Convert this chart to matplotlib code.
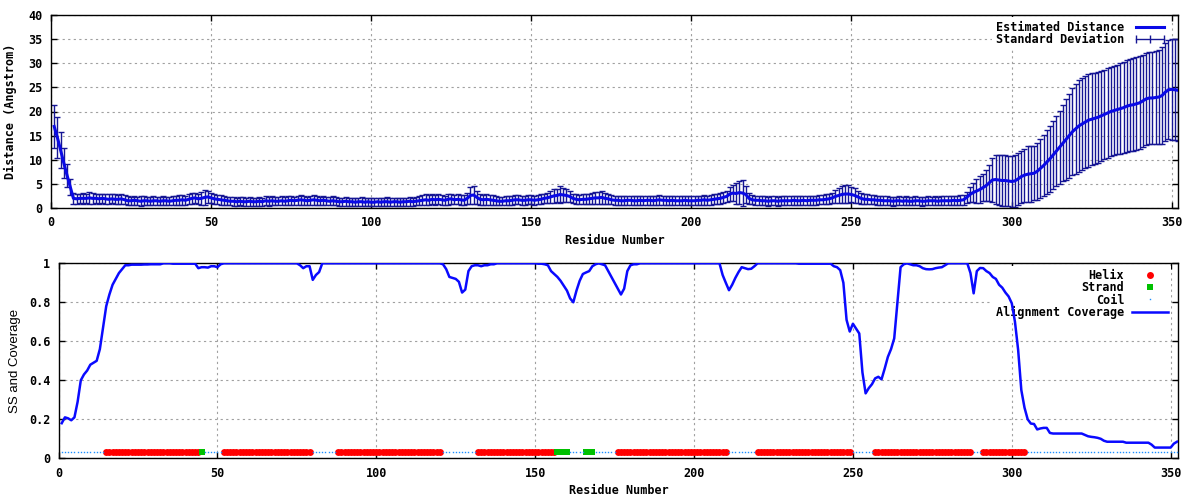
import numpy as np
import matplotlib
matplotlib.use("Agg")
import matplotlib.pyplot as plt
from matplotlib.lines import Line2D

# estimated distance per residue (1..352)
distance = [
    16.9, 14.6, 12.0, 9.3, 6.8, 4.4, 2.0, 1.9, 2.0, 2.0,
    2.0, 2.1, 2.0, 2.0, 1.9, 2.0, 1.9, 1.8, 1.9, 1.8,
    1.8, 1.9, 1.7, 1.5, 1.5, 1.6, 1.5, 1.4, 1.5, 1.5,
    1.4, 1.5, 1.5, 1.4, 1.5, 1.5, 1.4, 1.5, 1.6, 1.6,
    1.7, 1.6, 1.8, 2.0, 2.1, 1.9, 2.0, 2.2, 2.3, 2.1,
    1.9, 1.8, 1.7, 1.6, 1.5, 1.4, 1.4, 1.3, 1.4, 1.3,
    1.3, 1.4, 1.3, 1.3, 1.4, 1.3, 1.5, 1.4, 1.5, 1.4,
    1.4, 1.5, 1.4, 1.5, 1.6, 1.5, 1.6, 1.7, 1.6, 1.5,
    1.6, 1.7, 1.6, 1.5, 1.6, 1.5, 1.4, 1.5, 1.4, 1.3,
    1.3, 1.4, 1.3, 1.3, 1.2, 1.3, 1.3, 1.2, 1.3, 1.2,
    1.2, 1.3, 1.2, 1.3, 1.3, 1.2, 1.3, 1.3, 1.2, 1.3,
    1.3, 1.4, 1.3, 1.4, 1.5, 1.6, 1.7, 1.6, 1.8, 1.7,
    1.8, 1.7, 1.6, 1.8, 1.9, 1.7, 1.8, 1.7, 1.6, 2.0,
    2.6, 2.7, 2.2, 1.8, 1.7, 1.8, 1.7, 1.6, 1.5, 1.4,
    1.4, 1.5, 1.5, 1.6, 1.7, 1.7, 1.6, 1.6, 1.7, 1.7,
    1.6, 1.7, 1.8, 2.0, 2.1, 2.3, 2.5, 2.6, 2.8, 2.7,
    2.6, 2.4, 2.0, 1.8, 1.7, 1.8, 1.8, 1.9, 2.0, 2.1,
    2.1, 2.2, 2.0, 1.9, 1.7, 1.6, 1.6, 1.5, 1.5, 1.6,
    1.6, 1.5, 1.5, 1.6, 1.5, 1.6, 1.6, 1.5, 1.6, 1.7,
    1.6, 1.6, 1.5, 1.6, 1.5, 1.5, 1.5, 1.6, 1.5, 1.5,
    1.5, 1.6, 1.6, 1.7, 1.6, 1.7, 1.8, 1.9, 2.0, 2.2,
    2.4, 2.9, 3.1, 3.0, 3.2, 3.1, 2.8, 2.0, 1.7, 1.6,
    1.6, 1.5, 1.5, 1.4, 1.5, 1.5, 1.4, 1.5, 1.5, 1.5,
    1.5, 1.6, 1.5, 1.5, 1.6, 1.5, 1.6, 1.6, 1.6, 1.7,
    1.7, 1.8, 1.9, 2.1, 2.4, 2.6, 2.8, 2.9, 2.9, 2.8,
    2.6, 2.3, 2.0, 1.8, 1.8, 1.7, 1.7, 1.6, 1.6, 1.5,
    1.5, 1.5, 1.4, 1.5, 1.5, 1.4, 1.5, 1.4, 1.4, 1.5,
    1.5, 1.4, 1.4, 1.5, 1.5, 1.5, 1.4, 1.5, 1.5, 1.5,
    1.5, 1.6, 1.5, 1.6, 1.7, 2.2, 2.8, 3.2, 3.5, 3.8,
    4.2, 4.6, 5.2, 5.8, 5.9, 5.8, 5.7, 5.7, 5.6, 5.5,
    5.6, 6.0, 6.5, 6.8, 7.0, 7.1, 7.2, 7.6, 8.2, 8.8,
    9.5, 10.2, 11.0, 11.8, 12.6, 13.4, 14.2, 15.0, 15.8, 16.4,
    17.0, 17.4, 17.8, 18.2, 18.4, 18.6, 18.8, 19.1, 19.4, 19.7,
    20.0, 20.2, 20.4, 20.6, 20.8, 21.1, 21.3, 21.4, 21.6, 21.8,
    22.2, 22.6, 22.8, 22.8, 22.9, 23.0, 23.3, 24.0, 24.5, 24.6,
    24.5, 24.4,
]

# standard deviation per residue
std_dev = [
    4.5, 4.2, 3.7, 3.1, 2.4, 1.7, 1.2, 1.0, 1.0, 1.1,
    1.0, 1.2, 1.1, 1.0, 1.1, 0.9, 1.0, 1.0, 0.9, 1.0,
    0.9, 1.0, 0.9, 0.9, 0.8, 0.9, 0.8, 1.0, 0.9, 0.8,
    0.8, 0.9, 0.8, 0.8, 0.9, 0.8, 0.8, 0.9, 0.9, 1.0,
    1.0, 0.9, 1.0, 1.2, 1.1, 1.0, 1.3, 1.5, 1.3, 1.0,
    1.0, 0.9, 1.0, 0.9, 0.8, 0.8, 0.9, 0.8, 0.8, 0.9,
    0.8, 0.9, 0.8, 0.8, 0.9, 0.8, 0.9, 0.9, 0.9, 0.8,
    0.8, 0.9, 0.8, 0.9, 0.9, 0.8, 0.9, 1.0, 0.9, 0.8,
    0.9, 1.0, 0.9, 0.8, 0.9, 0.8, 0.8, 0.9, 0.8, 0.8,
    0.8, 0.9, 0.8, 0.8, 0.8, 0.8, 0.9, 0.8, 0.8, 0.8,
    0.8, 0.8, 0.8, 0.8, 0.9, 0.8, 0.8, 0.8, 0.8, 0.8,
    0.8, 0.9, 0.8, 0.8, 0.9, 1.0, 1.1, 1.0, 1.0, 1.0,
    1.0, 1.0, 0.9, 1.1, 1.0, 0.9, 1.0, 1.0, 1.0, 1.2,
    1.7, 1.9, 1.4, 1.1, 1.0, 1.2, 1.0, 1.0, 0.9, 0.8,
    0.8, 0.9, 0.9, 0.9, 0.9, 0.9, 0.9, 0.9, 0.9, 0.9,
    0.9, 0.9, 1.0, 1.0, 1.1, 1.2, 1.4, 1.3, 1.8, 1.4,
    1.3, 1.2, 1.0, 1.0, 0.9, 1.0, 1.0, 1.1, 1.1, 1.3,
    1.2, 1.3, 1.1, 1.0, 0.9, 0.9, 0.9, 0.9, 0.9, 0.9,
    0.9, 0.9, 0.9, 0.9, 0.9, 0.9, 0.9, 0.9, 0.9, 1.0,
    0.9, 0.9, 0.9, 0.9, 0.9, 0.9, 0.9, 0.9, 0.9, 0.9,
    0.9, 0.9, 0.9, 1.0, 0.9, 1.0, 1.0, 1.0, 1.1, 1.1,
    1.2, 1.5, 1.6, 2.2, 2.3, 2.6, 1.8, 1.1, 0.9, 0.9,
    0.9, 0.9, 0.9, 0.9, 0.9, 0.9, 0.9, 0.9, 0.9, 0.9,
    0.9, 0.9, 0.9, 0.9, 0.9, 0.9, 0.9, 0.9, 0.9, 0.9,
    0.9, 1.0, 1.0, 1.1, 1.3, 1.5, 1.7, 1.9, 1.8, 1.6,
    1.5, 1.3, 1.1, 1.0, 1.0, 0.9, 0.9, 0.9, 0.9, 0.9,
    0.9, 0.8, 0.9, 0.8, 0.9, 0.8, 0.9, 0.8, 0.8, 0.9,
    0.8, 0.9, 0.8, 0.9, 0.8, 0.9, 0.8, 0.9, 0.9, 0.9,
    0.9, 0.9, 0.9, 1.0, 1.0, 1.2, 1.6, 2.0, 2.5, 2.8,
    2.8, 3.2, 3.8, 4.6, 5.0, 5.2, 5.3, 5.2, 5.2, 5.3,
    5.3, 5.3, 5.4, 5.5, 5.8, 5.8, 5.6, 5.9, 6.1, 6.4,
    6.6, 6.8, 7.0, 7.2, 7.6, 7.9, 8.3, 8.7, 9.0, 9.3,
    9.5, 9.6, 9.6, 9.6, 9.5, 9.4, 9.4, 9.3, 9.3, 9.3,
    9.3, 9.3, 9.3, 9.4, 9.4, 9.5, 9.5, 9.6, 9.6, 9.6,
    9.6, 9.6, 9.6, 9.6, 9.7, 9.8, 10.0, 10.2, 10.3, 10.5,
    10.5, 10.6,
]

# alignment coverage per residue
coverage = [
    0.18, 0.21, 0.205, 0.195, 0.21, 0.29, 0.40, 0.43, 0.45, 0.48,
    0.49, 0.50, 0.56, 0.67, 0.78, 0.84, 0.89, 0.92, 0.95, 0.97,
    0.99, 0.99, 0.993, 0.993, 0.993, 0.993, 0.994, 0.994, 0.995, 0.995,
    0.995, 0.995, 1.0, 1.0, 1.0, 0.998, 0.998, 0.998, 0.998, 0.998,
    0.998, 0.998, 0.998, 0.975, 0.98, 0.98, 0.978, 0.985, 0.985, 0.98,
    0.995, 1.0, 1.0, 1.0, 1.0, 1.0, 1.0, 1.0, 1.0, 1.0,
    1.0, 1.0, 1.0, 1.0, 1.0, 1.0, 1.0, 1.0, 1.0, 1.0,
    1.0, 1.0, 1.0, 1.0, 1.0, 0.99, 0.975, 0.985, 0.985, 0.915,
    0.94, 0.955, 1.0, 1.0, 1.0, 1.0, 1.0, 1.0, 1.0, 1.0,
    1.0, 1.0, 1.0, 1.0, 1.0, 1.0, 1.0, 1.0, 1.0, 1.0,
    1.0, 1.0, 1.0, 1.0, 1.0, 1.0, 1.0, 1.0, 1.0, 1.0,
    1.0, 1.0, 1.0, 1.0, 1.0, 1.0, 1.0, 1.0, 1.0, 1.0,
    0.995, 0.97, 0.93, 0.925, 0.92, 0.905, 0.85, 0.865, 0.96, 0.985,
    0.99, 0.99, 0.985, 0.99, 0.99, 0.995, 0.995, 1.0, 1.0, 1.0,
    1.0, 1.0, 1.0, 1.0, 1.0, 1.0, 1.0, 1.0, 1.0, 1.0,
    0.998, 0.998, 0.995, 0.99, 0.96, 0.945, 0.93, 0.91, 0.885, 0.86,
    0.82, 0.80, 0.86, 0.91, 0.945, 0.953, 0.96, 0.985, 0.995, 1.0,
    0.995, 0.99, 0.96, 0.93, 0.90, 0.87, 0.84, 0.87, 0.96, 0.99,
    0.995, 0.995, 1.0, 1.0, 1.0, 1.0, 1.0, 1.0, 1.0, 1.0,
    1.0, 1.0, 1.0, 1.0, 1.0, 1.0, 1.0, 1.0, 1.0, 1.0,
    1.0, 1.0, 1.0, 1.0, 1.0, 1.0, 1.0, 1.0, 0.94, 0.90,
    0.862, 0.89, 0.925, 0.955, 0.98, 0.975, 0.97, 0.972, 0.985, 1.0,
    1.0, 1.0, 1.0, 1.0, 1.0, 1.0, 1.0, 1.0, 1.0, 1.0,
    1.0, 1.0, 0.998, 0.998, 0.998, 0.998, 0.998, 0.998, 0.998, 0.998,
    0.998, 0.998, 0.998, 0.985, 0.98, 0.965, 0.90, 0.71, 0.65, 0.69,
    0.665, 0.64, 0.44, 0.333, 0.36, 0.38, 0.41, 0.418, 0.405, 0.46,
    0.52, 0.56, 0.615, 0.80, 0.98, 0.995, 1.0, 0.995, 0.99, 0.99,
    0.985, 0.975, 0.97, 0.969, 0.97, 0.975, 0.978, 0.98, 0.99, 1.0,
    1.0, 1.0, 1.0, 1.0, 1.0, 1.0, 0.95, 0.846, 0.96, 0.976,
    0.975, 0.96, 0.95, 0.93, 0.92, 0.89, 0.875, 0.85, 0.83, 0.795,
    0.70, 0.556, 0.35, 0.26, 0.20, 0.178, 0.176, 0.148, 0.153, 0.156,
    0.156, 0.13, 0.127, 0.127, 0.127, 0.127, 0.127, 0.127, 0.127, 0.127,
    0.127, 0.127, 0.12, 0.113, 0.11, 0.108, 0.105, 0.10, 0.09, 0.085,
    0.085, 0.085, 0.085, 0.085, 0.085, 0.08, 0.08, 0.08, 0.08, 0.08,
    0.08, 0.08, 0.08, 0.07, 0.055, 0.055, 0.055, 0.055, 0.055, 0.055,
    0.075, 0.085,
]

# secondary structure segments (first, last residue)
helix_ranges = [(15, 44), (52, 79), (88, 120), (132, 156), (176, 210),
                (220, 249), (257, 287), (291, 304)]
strand_ranges = [(45, 45), (157, 160), (166, 168)]
ss_level = 0.03

n_res = len(distance)
residues = np.arange(1, n_res + 1)

ss = np.array(['C'] * n_res)
for a, b in helix_ranges:
    ss[a - 1:b] = 'H'
for a, b in strand_ranges:
    ss[a - 1:b] = 'E'

MONO = 'DejaVu Sans Mono'
FS = 8.5
plt.rcParams['font.family'] = MONO
plt.rcParams['font.weight'] = 'bold'
plt.rcParams['font.size'] = FS

grid_style = dict(color='#a0a0a0', linestyle=(0, (2, 3)), linewidth=0.8)
legend_style = dict(loc='upper right', bbox_to_anchor=(0.996, 1.0),
                    markerfirst=False, frameon=True, fancybox=False,
                    edgecolor='none', facecolor='white', framealpha=1,
                    handlelength=3.0, handletextpad=0.7,
                    labelspacing=-0.07, borderpad=0.3, borderaxespad=0.2,
                    prop={'family': MONO, 'weight': 'bold', 'size': FS})


def style_axes(ax):
    ax.set_axisbelow(True)
    ax.grid(True, **grid_style)
    ax.tick_params(direction='in', top=True, right=True, length=4, width=1,
                   pad=6, labelsize=FS)
    for s in ax.spines.values():
        s.set_linewidth(1)
    for lab in ax.get_xticklabels() + ax.get_yticklabels():
        lab.set_fontweight('bold')


fig = plt.figure(figsize=(12, 5), dpi=100)

# top panel: estimated distance with standard deviation
ax1 = fig.add_axes([0.0425, 0.584, 0.9392, 0.386])
ax1.errorbar(residues, distance, yerr=std_dev, fmt='none', ecolor='#161694',
             elinewidth=1, capsize=2, capthick=1, zorder=2)
ax1.plot(residues, distance, color='#0a0ae6', linewidth=2.2, zorder=3)
ax1.set_xlim(0, 352)
ax1.set_ylim(0, 40)
ax1.set_xticks(np.arange(0, 351, 50))
ax1.set_yticks(np.arange(0, 41, 5))
style_axes(ax1)
ax1.set_xlabel('Residue Number', fontweight='bold', labelpad=3)
ax1.set_ylabel('Distance (Angstrom)', fontweight='bold', labelpad=8)

h1 = [Line2D([], [], color='#0a0ae6', linewidth=2.2),
      Line2D([], [], color='#161694', linewidth=1, marker='|',
             markersize=6, markeredgewidth=1)]
leg1 = ax1.legend(h1, ['Estimated Distance', 'Standard Deviation'],
                  numpoints=3, **legend_style)
leg1.set_zorder(1)

# bottom panel: secondary structure and alignment coverage
ax2 = fig.add_axes([0.0488, 0.0834, 0.9331, 0.39])
helix_x = residues[ss == 'H']
strand_x = residues[ss == 'E']
coil_x = residues[ss == 'C']
ax2.plot(helix_x, np.full(len(helix_x), ss_level), linestyle='none',
         marker='o', markersize=5, color='#ff0000', markeredgewidth=0,
         label='Helix', zorder=3)
ax2.plot(strand_x, np.full(len(strand_x), ss_level), linestyle='none',
         marker='s', markersize=5, color='#00c000', markeredgewidth=0,
         label='Strand', zorder=3)
ax2.plot(coil_x, np.full(len(coil_x), ss_level), linestyle='none',
         marker='s', markersize=1.0, color='#1e8fff', markeredgewidth=0,
         label='Coil', zorder=3)
ax2.plot(residues, coverage, color='#0a0aff', linewidth=1.8,
         label='Alignment Coverage', zorder=4)
ax2.set_xlim(0, 352.4)
ax2.set_ylim(0, 1)
ax2.set_xticks(np.arange(0, 351, 50))
ax2.set_yticks([0, 0.2, 0.4, 0.6, 0.8, 1.0])
ax2.set_yticklabels(['0', '0.2', '0.4', '0.6', '0.8', '1'])
style_axes(ax2)
ax2.set_xlabel('Residue Number', fontweight='bold', labelpad=3)
ax2.set_ylabel('SS and Coverage', family='Liberation Sans',
               fontweight='normal', fontsize=9.5, labelpad=6)

leg2 = ax2.legend(numpoints=1, **legend_style)
leg2.set_zorder(1)

fig.savefig('out.png', dpi=100)
